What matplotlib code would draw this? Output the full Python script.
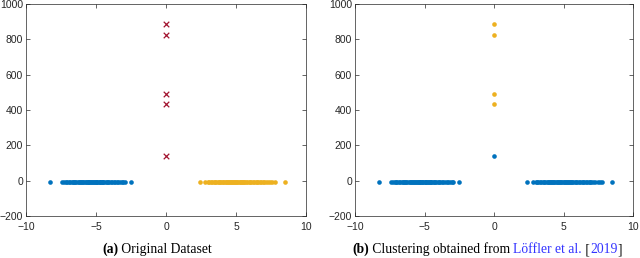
import matplotlib
matplotlib.use("Agg")
import matplotlib.pyplot as plt

# ---- data ----
left_x = [-8.3, -7.4, -7.3, -7.15, -7.05, -6.95, -6.85, -6.75, -6.65, -6.55, -6.5, -6.4, -6.3,
          -6.25, -6.15, -6.05, -6.0, -5.9, -5.85, -5.75, -5.7, -5.6, -5.55, -5.5, -5.4, -5.35,
          -5.3, -5.2, -5.15, -5.1, -5.0, -4.95, -4.9, -4.8, -4.75, -4.7, -4.6, -4.55, -4.5,
          -4.4, -4.3, -4.25, -4.15, -4.05, -3.95, -3.85, -3.75, -3.65, -3.5, -3.4, -3.3,
          -3.15, -3.05, -2.95, -2.5]
right_x = [2.4, 2.8, 3.0, 3.1, 3.2, 3.3, 3.4, 3.5, 3.6, 3.7, 3.8, 3.85, 3.95, 4.05, 4.1, 4.2,
           4.25, 4.35, 4.4, 4.5, 4.55, 4.65, 4.7, 4.8, 4.85, 4.95, 5.0, 5.1, 5.15, 5.25, 5.3,
           5.4, 5.45, 5.55, 5.6, 5.7, 5.8, 5.9, 6.0, 6.1, 6.2, 6.3, 6.4, 6.5, 6.6, 6.7, 6.8,
           6.9, 7.0, 7.15, 7.3, 7.45, 7.6, 7.75, 8.5]
cluster_y = -10
outlier_y = [885, 826, 490, 432, 138]
outlier_x = [0, 0, 0, 0, 0]
# clustering result (b): outliers assigned to clusters
b_orange_y = [885, 826, 490, 432]
b_blue_y = [138]

xticks = [-10, -5, 0, 5, 10]
yticks = [-200, 0, 200, 400, 600, 800, 1000]

BLUE = "#0072BD"
ORANGE = "#EDB120"
RED = "#A2142F"

plt.rcParams['font.family'] = ['Liberation Sans', 'DejaVu Sans']

fig = plt.figure(figsize=(6.4, 2.58), dpi=100)
ax1 = fig.add_axes([26/640, 1-216/258, 280/640, 212/258])
ax2 = fig.add_axes([355/640, 1-216/258, 278/640, 212/258])

def style(ax):
    ax.set_xlim(-10, 10)
    ax.set_ylim(-200, 1000)
    ax.set_xticks(xticks)
    ax.set_yticks(yticks)
    ax.tick_params(direction='in', length=3, width=0.5, labelsize=7.5,
                   top=True, right=True, colors='#262626')
    ax.tick_params(axis='x', pad=4)
    ax.tick_params(axis='y', pad=2)
    for s in ax.spines.values():
        s.set_linewidth(0.5)
        s.set_color('#262626')

ms = 11
ax1.scatter(left_x, [cluster_y]*len(left_x), s=ms, color=BLUE, linewidths=0)
ax1.scatter(right_x, [cluster_y]*len(right_x), s=ms, color=ORANGE, linewidths=0)
ax1.scatter(outlier_x, outlier_y, s=16, marker='x', color=RED, linewidths=0.9)
style(ax1)

ax2.scatter(left_x, [cluster_y]*len(left_x), s=ms, color=BLUE, linewidths=0)
ax2.scatter(right_x, [cluster_y]*len(right_x), s=ms, color=BLUE, linewidths=0)
ax2.scatter([0]*len(b_orange_y), b_orange_y, s=ms, color=ORANGE, linewidths=0)
ax2.scatter([0]*len(b_blue_y), b_blue_y, s=ms, color=BLUE, linewidths=0)
style(ax2)

serif = ['Liberation Serif', 'DejaVu Serif']
fs = 9.8

def chain(parts, x, y):
    fig.canvas.draw()
    r = fig.canvas.get_renderer()
    texts = []
    for s, c, w in parts:
        t = fig.text(x, y, s, color=c, fontweight=w, family=serif, fontsize=fs,
                     ha='left', va='baseline')
        texts.append(t)
    fig.canvas.draw()
    widths = [t.get_window_extent(r).width for t in texts]
    total = sum(widths)
    xpix = x * 640 - total / 2
    for t, wdt in zip(texts, widths):
        t.set_position((xpix / 640, y))
        xpix += wdt

chain([("(a)", 'black', 'bold'), (" Original Dataset", 'black', 'normal')], 157/640, 1-253/258)
chain([("(b)", 'black', 'bold'), (" Clustering obtained from ", 'black', 'normal'),
       ("Löffler et al.", '#3333FF', 'normal'), (" [", 'black', 'normal'),
       ("2019", '#3333FF', 'normal'), ("]", 'black', 'normal')], 487/640, 1-253/258)

fig.savefig("out.png", dpi=100)
